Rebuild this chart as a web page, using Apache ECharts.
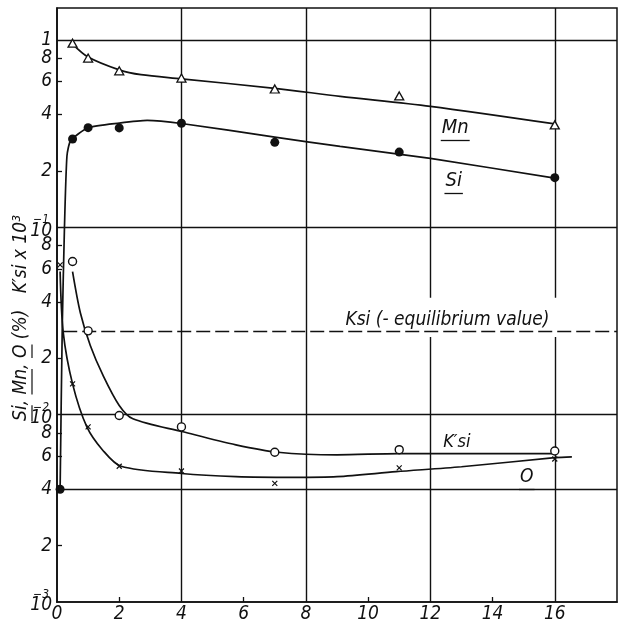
<!DOCTYPE html>
<html>
<head>
<meta charset="utf-8">
<script src="https://cdn.jsdelivr.net/npm/echarts@6/dist/echarts.min.js"></script>
<style>
  html, body { margin: 0; padding: 0; background: #fff; }
  #chart { width: 632px; height: 624px; }
</style>
</head>
<body>
<div id="chart"></div>
<script>
// Sampling times (x axis) and measured contents
const sampleTimes = [0.5, 1, 2, 4, 7, 11, 16];
const mnValues = [0.96, 0.80, 0.684, 0.626, 0.547, 0.502, 0.352];
const siInitial = [0.1, 0.004];
const siValues = [0.296, 0.340, 0.339, 0.359, 0.284, 0.252, 0.184];
const kSiValues = [0.0657, 0.028, 0.0099, 0.0086, 0.0063, 0.0065, 0.0064];
const oInitial = [0.1, 0.063];
const oValues = [0.0146, 0.0086, 0.0053, 0.0050, 0.0043, 0.0052, 0.0058];
const kSiEquilibrium = 0.028;

// Faired curves drawn through the measurements
const mnCurve = [[0.5, 0.95], [1, 0.81], [2, 0.692], [2.7, 0.652], [4, 0.62], [7, 0.551], [9.1, 0.5], [12, 0.442], [16, 0.356]];
const siCurve = [[0.1, 0.004], [0.17, 0.03], [0.24, 0.1], [0.32, 0.24], [0.44, 0.29], [1, 0.34], [2, 0.36], [2.9, 0.372], [4, 0.358], [7, 0.303], [9.1, 0.27], [12, 0.233], [16, 0.183]];
const kSiCurve = [[0.5, 0.058], [0.75, 0.035], [1.07, 0.0234], [1.48, 0.0162], [2.0, 0.0112], [2.44, 0.0095], [4.05, 0.0081], [5.75, 0.0069], [7.1, 0.0063], [9.0, 0.0061], [11, 0.0062], [16, 0.0062]];
const oCurve = [[0.1, 0.058], [0.2, 0.0275], [0.5, 0.0146], [0.96, 0.0086], [1.47, 0.00646], [2.06, 0.0053], [4, 0.00485], [5.75, 0.00467], [7.6, 0.00463], [9, 0.00467], [10.9, 0.00496], [13, 0.00527], [16, 0.00589], [16.55, 0.00595]];

// Axis ticks and reference lines
const xLabelValues = [0, 2, 4, 6, 8, 10, 12, 14, 16];
const xMinorTicks = [2, 6, 10, 14];
const xGridValues = [4, 8, 12, 16];
const yGridValues = [1, 0.1, 0.01, 0.004];
const yLabelValues = [0.001, 0.002, 0.004, 0.006, 0.008, 0.01, 0.02, 0.04, 0.06, 0.08, 0.1, 0.2, 0.4, 0.6, 0.8, 1];
const yMinorTicks = [0.002, 0.004, 0.006, 0.008, 0.02, 0.04, 0.06, 0.08, 0.2, 0.4, 0.6, 0.8];

// Curve names written on the plot: [text, x, y, size, underlined]
const curveNotes = [
  ['Mn', 12.8, 0.34, 20, true],
  ['Si', 12.75, 0.177, 20, true],
  ['K\u2032si', 12.85, 0.0071, 18, false],
  ['O', 15.1, 0.00464, 19, true],
  ['Ksi (- equilibrium value)', 12.55, 0.0318, 19, false]
];
const yTitle = 'Si, Mn, O (%)   K\u2032si x 10\u00b3';
const yTitleUnderlined = ['Si', 'Mn', 'O'];

const X_MIN = 0, X_MAX = 18, Y_MIN = 0.001, Y_MAX = 1.48;
const FONT = "'Liberation Sans Narrow','DejaVu Sans Condensed','Liberation Sans',sans-serif";
const INK = '#111';

const pairs = (xs, ys) => xs.map((x, i) => [x, ys[i]]);

// frame lines: horizontal grid, vertical grid (12 and 16 broken around the note)
const frameLines = [];
yGridValues.forEach(v => frameLines.push([{ coord: [X_MIN, v] }, { coord: [X_MAX, v] }]));
xGridValues.forEach(t => {
  if (t >= 12) {
    frameLines.push([{ coord: [t, Y_MIN] }, { coord: [t, 0.026] }]);
    frameLines.push([{ coord: [t, 0.042] }, { coord: [t, Y_MAX] }]);
  } else {
    frameLines.push([{ coord: [t, Y_MIN] }, { coord: [t, Y_MAX] }]);
  }
});

function yLabel(v) {
  if (v > 1) return '';
  const e = Math.floor(Math.log10(v) + 1e-9);
  const m = Math.round(v / Math.pow(10, e));
  if (m === 1) return e === 0 ? '{a|1}' : '{s|\u2212' + (-e) + '}\n{a|10}';
  return '{a|' + m + '}';
}

const curveLine = { color: INK, width: 1.7 };

const option = {
  animation: false,
  backgroundColor: '#fff',
  grid: { left: 57, right: 15, top: 8, bottom: 21, show: true, borderColor: INK, borderWidth: 1.5, backgroundColor: 'transparent' },
  xAxis: {
    type: 'value', min: X_MIN, max: X_MAX,
    axisLine: { show: true, lineStyle: { color: INK, width: 1.7 } },
    splitLine: { show: false },
    axisTick: { show: true, inside: true, length: 5, customValues: xMinorTicks, lineStyle: { color: INK, width: 1.3 } },
    axisLabel: { customValues: xLabelValues, hideOverlap: false, color: INK, fontFamily: FONT, fontStyle: 'italic', fontSize: 19, margin: 3 }
  },
  yAxis: {
    type: 'log', logBase: 10, min: Y_MIN, max: Y_MAX,
    axisLine: { show: true, lineStyle: { color: INK, width: 1.7 } },
    splitLine: { show: false },
    minorTick: { show: false },
    axisTick: { show: true, inside: true, length: 5, customValues: yMinorTicks, lineStyle: { color: INK, width: 1.3 } },
    axisLabel: {
      // a blank label at the top edge keeps the edge-label overlap check away from "1" and "8"
      customValues: yLabelValues.concat([Y_MAX]), formatter: yLabel, hideOverlap: false,
      color: INK, fontFamily: FONT, fontStyle: 'italic', fontSize: 19, lineHeight: 14, margin: 5,
      rich: {
        a: { fontFamily: FONT, fontStyle: 'italic', fontSize: 19, lineHeight: 14, color: INK, align: 'right' },
        s: { fontFamily: FONT, fontStyle: 'italic', fontSize: 12, lineHeight: 7, color: INK, align: 'right', padding: [0, 3, 0, 0] }
      }
    }
  },
  series: [
    {
      name: 'frame', type: 'line', data: [], silent: true,
      markLine: { silent: true, symbol: 'none', label: { show: false },
        lineStyle: { color: INK, width: 1.4, type: 'solid' }, data: frameLines }
    },
    {
      name: 'equilibrium', type: 'line', data: [], silent: true,
      markLine: { silent: true, symbol: 'none', label: { show: false },
        lineStyle: { color: INK, width: 1.4, type: [14, 5] },
        data: [[{ coord: [0.2, kSiEquilibrium] }, { coord: [X_MAX, kSiEquilibrium] }]] }
    },
    { name: 'Mn curve', type: 'line', data: mnCurve, smooth: 0.3, showSymbol: false, lineStyle: curveLine, z: 3 },
    { name: 'Si curve', type: 'line', data: siCurve, smooth: 0.2, showSymbol: false, lineStyle: curveLine, z: 3 },
    { name: 'K\u2032si curve', type: 'line', data: kSiCurve, smooth: 0.3, showSymbol: false, lineStyle: curveLine, z: 3 },
    { name: 'O curve', type: 'line', data: oCurve, smooth: 0.3, showSymbol: false, lineStyle: curveLine, z: 3 },
    {
      name: 'Mn', type: 'scatter', data: pairs(sampleTimes, mnValues), symbol: 'triangle', symbolSize: [9, 8],
      itemStyle: { color: '#fff', borderColor: INK, borderWidth: 1.3, opacity: 1 }, z: 5
    },
    {
      name: 'Si', type: 'scatter', data: [siInitial].concat(pairs(sampleTimes, siValues)), symbol: 'circle', symbolSize: 9,
      itemStyle: { color: INK, opacity: 1 }, z: 5
    },
    {
      name: 'K\u2032si', type: 'scatter', data: pairs(sampleTimes, kSiValues), symbol: 'circle', symbolSize: 8,
      itemStyle: { color: '#fff', borderColor: INK, borderWidth: 1.4, opacity: 1 }, z: 5
    },
    {
      name: 'O', type: 'scatter', data: [oInitial].concat(pairs(sampleTimes, oValues)),
      symbol: 'path://M0,0L10,10M10,0L0,10', symbolSize: 5,
      itemStyle: { color: INK, borderColor: INK, borderWidth: 1.2, opacity: 1 }, z: 5
    }
  ]
};

const chart = echarts.init(document.getElementById('chart'), null, { renderer: 'canvas' });
chart.setOption(option);

// Curve names, the equilibrium note and the rotated y-axis title
const measure = document.createElement('canvas').getContext('2d');
function widthOf(str, font) { measure.font = font; return measure.measureText(str).width; }

const graphics = [];
curveNotes.forEach(([text, x, y, size, underlined]) => {
  const [px, py] = chart.convertToPixel({ gridIndex: 0 }, [x, y]);
  const font = 'italic ' + size + 'px ' + FONT;
  graphics.push({ type: 'text', x: px, y: py, z: 10,
    style: { text: text, font: font, fill: INK, align: 'center', verticalAlign: 'middle' } });
  if (underlined) {
    const w = widthOf(text, font);
    const uy = Math.round(py + size * 0.6) + 0.5;
    graphics.push({ type: 'line', z: 10, shape: { x1: px - w / 2 - 1, y1: uy, x2: px + w / 2 + 1, y2: uy },
      style: { stroke: INK, lineWidth: 1.3 } });
  }
});

const titleFont = 'italic 19px ' + FONT;
const titleWidth = widthOf(yTitle, titleFont);
const titleChildren = [{ type: 'text', x: 0, y: 0,
  style: { text: yTitle, font: titleFont, fill: INK, align: 'center', verticalAlign: 'middle' } }];
let searchFrom = 0;
yTitleUnderlined.forEach(word => {
  const idx = yTitle.indexOf(word, searchFrom);
  searchFrom = idx + word.length;
  const x1 = -titleWidth / 2 + widthOf(yTitle.slice(0, idx), titleFont);
  const x2 = x1 + widthOf(word, titleFont);
  titleChildren.push({ type: 'line', shape: { x1: x1, y1: 11, x2: x2, y2: 11 }, style: { stroke: INK, lineWidth: 1.2 } });
});
graphics.push({ type: 'group', x: 21, y: 318, rotation: Math.PI / 2, children: titleChildren, z: 10 });

chart.setOption({ graphic: graphics });
</script>
</body>
</html>
